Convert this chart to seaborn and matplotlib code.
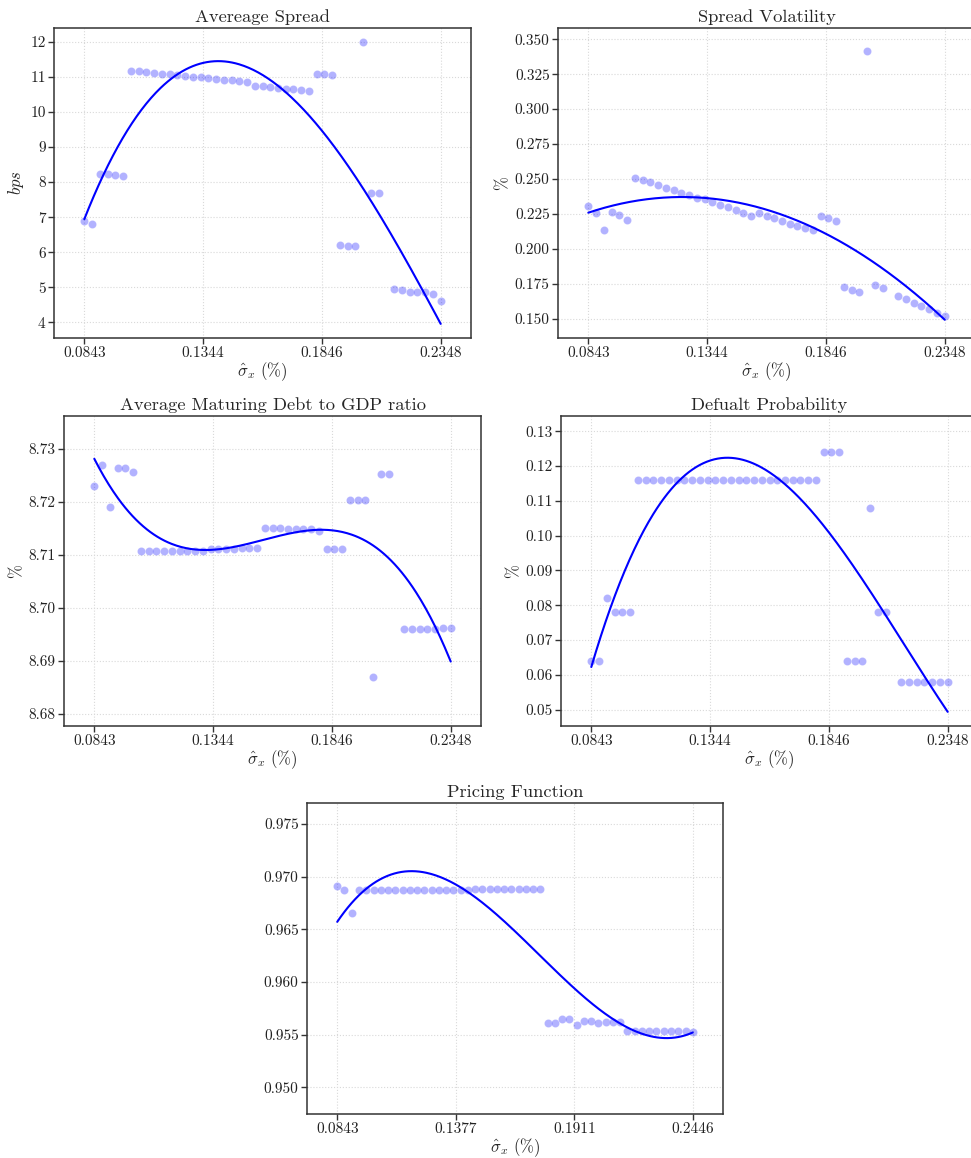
import numpy as np
import pandas as pd
import matplotlib
matplotlib.use("Agg")
import matplotlib.pyplot as plt
from matplotlib.ticker import FixedLocator, FormatStrFormatter, MultipleLocator
import seaborn as sns

# Grid of volatility values (sigma_x, %)
SIGMA_MIN = 0.08426
SIGMA_MAX = 0.24458
N_GRID = 50
sigma = np.linspace(SIGMA_MIN, SIGMA_MAX, N_GRID)
nan = np.nan

avg_spread = [6.89, 6.80, 8.23, 8.23, 8.21, 8.17, 11.17, 11.16, 11.13, 11.11,
              11.09, 11.08, 11.06, 11.04, 11.01, 10.99, 10.96, 10.94, 10.92, 10.91,
              10.89, 10.86, 10.74, 10.73, 10.71, 10.69, 10.67, 10.65, 10.64, 10.60,
              11.09, 11.08, 11.05, 6.21, 6.19, 6.17, 12.00, 7.69, 7.69, nan,
              4.94, 4.92, 4.87, 4.86, 4.85, 4.82, 4.62]

spread_vol = [0.2305, 0.2255, 0.2135, 0.2260, 0.2243, 0.2207, 0.2509, 0.2494, 0.2475, 0.2456,
              0.2437, 0.2420, 0.2401, 0.2382, 0.2363, 0.2355, 0.2336, 0.2317, 0.2298, 0.2276,
              0.2257, 0.2238, 0.2255, 0.2236, 0.2217, 0.2200, 0.2180, 0.2161, 0.2149, 0.2133,
              0.2233, 0.2217, 0.2197, 0.1723, 0.1706, 0.1687, 0.3416, 0.1738, 0.1721, nan,
              0.1663, 0.1637, 0.1613, 0.1589, 0.1570, 0.1543, 0.1520]

debt_gdp = [8.7230, 8.7270, 8.7191, 8.7264, 8.7264, 8.7256, 8.7107, 8.7108, 8.7108, 8.7108,
            8.7108, 8.7108, 8.7108, 8.7108, 8.7108, 8.7111, 8.7111, 8.7111, 8.7111, 8.7112,
            8.7112, 8.7112, 8.7150, 8.7150, 8.7150, 8.7149, 8.7149, 8.7149, 8.7148, 8.7145,
            8.7111, 8.7111, 8.7111, 8.7204, 8.7204, 8.7204, 8.6869, 8.7253, 8.7253, nan,
            8.6960, 8.6960, 8.6960, 8.6960, 8.6960, 8.6962, 8.6962]

default_prob = [0.064, 0.064, 0.082, 0.078, 0.078, 0.078, 0.116, 0.116, 0.116, 0.116,
                0.116, 0.116, 0.116, 0.116, 0.116, 0.116, 0.116, 0.116, 0.116, 0.116,
                0.116, 0.116, 0.116, 0.116, 0.116, 0.116, 0.116, 0.116, 0.116, 0.116,
                0.124, 0.124, 0.124, 0.064, 0.064, 0.064, 0.108, 0.078, 0.078, nan,
                0.058, 0.058, 0.058, 0.058, 0.058, 0.058, 0.058]

pricing = [0.96914, 0.96876, 0.96657, 0.96876, 0.96876, 0.96876, 0.96874, 0.96874, 0.96876, 0.96876,
           0.96876, 0.96876, 0.96876, 0.96876, 0.96876, 0.96876, 0.96876, 0.96878, 0.96878, 0.96880,
           0.96880, 0.96880, 0.96882, 0.96882, 0.96882, 0.96882, 0.96882, 0.96882, 0.96882, 0.95615,
           0.95615, 0.95650, 0.95650, 0.95593, 0.95631, 0.95631, 0.95612, 0.95624, 0.95624, 0.95624,
           0.95539, 0.95539, 0.95539, 0.95539, 0.95539, 0.95536, 0.95536, 0.95536, 0.95536, 0.95529]

titles = ["Avereage Spread", "Spread Volatility", "Average Maturing Debt to GDP ratio",
          "Defualt Probability", "Pricing Function"]
ylabels = [r"$bps$", "%", "%", "%", ""]
fit_orders = [3, 2, 3, 3, 3]
series = [avg_spread, spread_vol, debt_gdp, default_prob, pricing]
ylims = [(3.55, 12.40), (0.1361, 0.3581), (8.6777, 8.7362), (0.0453, 0.1344), (0.94746, 0.9770)]
ysteps = [1, 0.025, 0.01, 0.01, 0.005]
yfmts = ["%d", "%.3f", "%.2f", "%.2f", "%.3f"]

sns.set_style("ticks")
plt.rcParams["font.family"] = ["serif"]
plt.rcParams["font.serif"] = ["cmr10", "DejaVu Serif"]
plt.rcParams["mathtext.fontset"] = "cm"
plt.rcParams["axes.formatter.use_mathtext"] = True

W, H = 971, 1158
fig = plt.figure(figsize=(W / 100, H / 100), dpi=100)

# axes boxes in pixels: left, top, right, bottom
boxes = [(54, 28, 471, 338), (558, 28, 975, 338),
         (64, 416, 481, 726), (561, 416, 978, 726),
         (307, 803, 723, 1114)]

for k, (vals, box) in enumerate(zip(series, boxes)):
    l, t, r, b = box
    ax = fig.add_axes([l / W, 1 - b / H, (r - l) / W, (b - t) / H])
    y = np.asarray(vals, dtype=float)
    x = sigma[:len(y)]
    df = pd.DataFrame({"x": x, "y": y}).dropna()

    # polynomial trend fitted to the observed points
    coef = np.polyfit(df["x"], df["y"], fit_orders[k])
    xs = np.linspace(x.min(), x.max(), 300)
    fit = pd.DataFrame({"x": xs, "y": np.polyval(coef, xs)})

    sns.scatterplot(data=df, x="x", y="y", ax=ax, color="blue", alpha=0.3,
                    s=34, edgecolor="white", linewidth=0.5, zorder=3)
    sns.lineplot(data=fit, x="x", y="y", ax=ax, color="blue", lw=1.5, zorder=4)

    span = x.max() - x.min()
    ax.set_xlim(x.min() - 0.085 * span, x.max() + 0.085 * span)
    ax.set_ylim(*ylims[k])
    ax.xaxis.set_major_locator(FixedLocator(np.linspace(x.min(), x.max(), 4)))
    ax.xaxis.set_major_formatter(FormatStrFormatter("%.4f"))
    ax.yaxis.set_major_locator(MultipleLocator(ysteps[k]))
    ax.yaxis.set_major_formatter(FormatStrFormatter(yfmts[k]))

    ax.grid(True, ls=":", color="#d9d9d9", lw=0.8, zorder=0)
    ax.set_axisbelow(True)
    for sp in ax.spines.values():
        sp.set_color("#333333")
        sp.set_linewidth(1.1)
    ax.tick_params(direction="out", length=4, width=1, color="#333333", pad=2,
                   labelsize=11, labelcolor="#222222")
    ax.set_title(titles[k], fontsize=13.3, pad=4)
    ax.set_xlabel(r"$\hat{\sigma}_x$ (%)", fontsize=12, labelpad=0)
    ax.set_ylabel(ylabels[k], fontsize=12, labelpad=3)

fig.savefig("out.png", dpi=100)
